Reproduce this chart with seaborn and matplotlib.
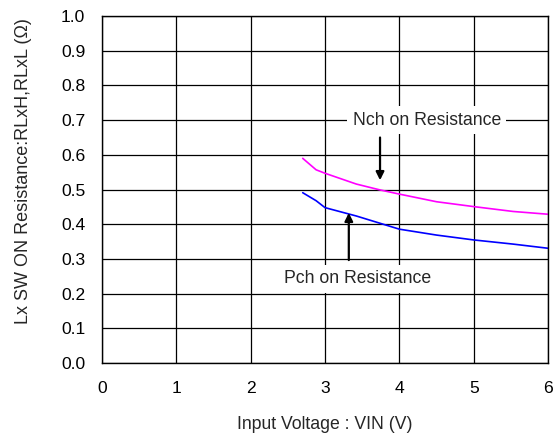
import pandas as pd
import matplotlib
matplotlib.use("Agg")
import matplotlib.pyplot as plt
import seaborn as sns

# ----------------------------
# Data
# ----------------------------
vin = [2.7, 2.88, 3.0, 3.42, 3.74, 4.0, 4.5, 5.0, 5.53, 6.0]
nch_res = [0.590, 0.557, 0.547, 0.516, 0.499, 0.487, 0.465, 0.451, 0.437, 0.429]
pch_res = [0.491, 0.468, 0.448, 0.424, 0.403, 0.386, 0.369, 0.355, 0.343, 0.331]

x_ticks = [0, 1, 2, 3, 4, 5, 6]
y_ticks = [0.0, 0.1, 0.2, 0.3, 0.4, 0.5, 0.6, 0.7, 0.8, 0.9, 1.0]

df = pd.DataFrame({
    "VIN": vin + vin,
    "R": nch_res + pch_res,
    "ch": ["Nch"] * len(vin) + ["Pch"] * len(vin),
})

# ----------------------------
# Style
# ----------------------------
sns.set_style("white")
plt.rcParams["font.family"] = ["Liberation Sans", "DejaVu Sans"]

fig = plt.figure(figsize=(5.53, 4.38), dpi=100)
ax = fig.add_axes([0.1845, 0.1708, 0.8065, 0.7927])

sns.lineplot(data=df, x="VIN", y="R", hue="ch",
             palette={"Nch": "#ff00ff", "Pch": "#0000ff"},
             linewidth=1.2, legend=False, ax=ax)

ax.set_xlim(0, 6)
ax.set_ylim(0, 1.0)
ax.set_xticks(x_ticks)
ax.set_yticks(y_ticks)
ax.set_yticklabels([f"{v:.1f}" for v in y_ticks])
ax.grid(True, color="black", linewidth=0.9)
ax.set_axisbelow(True)
for s in ax.spines.values():
    s.set_color("black")
    s.set_linewidth(1.0)
ax.tick_params(length=0, pad=12, labelsize=12.6, colors="black")
ax.tick_params(axis="x", pad=13)

ax.set_xlabel("Input Voltage : VIN (V)", fontsize=12.7, labelpad=14)
ax.set_ylabel("Lx SW ON Resistance:RLxH,RLxL (Ω)", fontsize=13)
ax.yaxis.set_label_coords(-0.158, 0.554)

# ----------------------------
# Annotations
# ----------------------------
box = dict(boxstyle="square,pad=0.3", fc="white", ec="none")
ax.text(4.37, 0.70, "Nch on Resistance", fontsize=12.7, ha="center", va="center",
        bbox=box, zorder=5)
ax.text(3.44, 0.243, "Pch on Resistance", fontsize=12.7, ha="center", va="center",
        bbox=box, zorder=5)

arrow = dict(arrowstyle="-|>", color="black", lw=1.6, mutation_scale=12)
ax.annotate("", xy=(3.74, 0.519), xytext=(3.74, 0.658), arrowprops=arrow, zorder=6)
ax.annotate("", xy=(3.32, 0.441), xytext=(3.32, 0.289), arrowprops=arrow, zorder=6)

plt.savefig("out.png", dpi=100)
plt.close()
